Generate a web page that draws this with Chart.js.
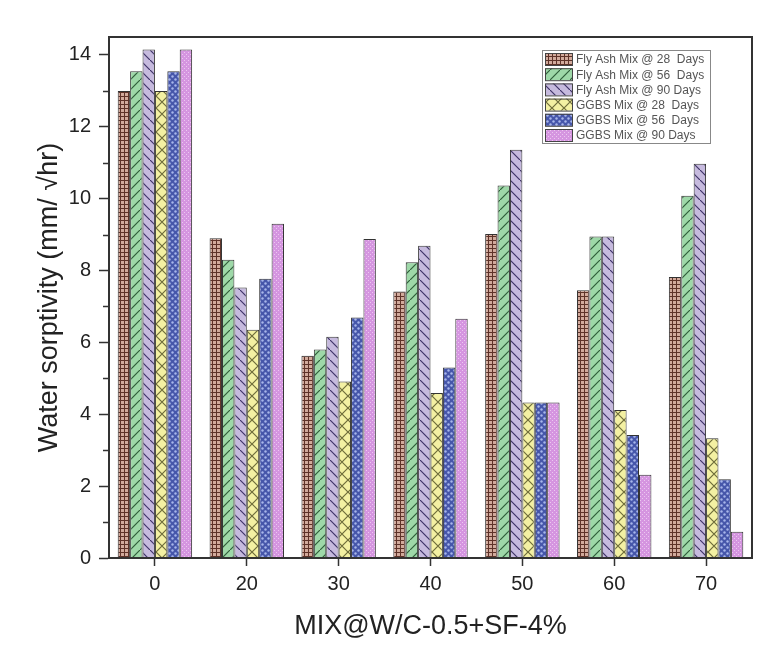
<!DOCTYPE html>
<html>
<head>
<meta charset="utf-8">
<script src="https://cdn.jsdelivr.net/npm/chart.js@4.4.1/dist/chart.umd.min.js"></script>
<style>
  html, body { margin: 0; padding: 0; background: #fff; }
  #wrap { width: 783px; height: 671px; position: relative; }
</style>
</head>
<body>
<div id="wrap"><canvas id="chart"></canvas></div>
<script>
var categories = ['0', '20', '30', '40', '50', '60', '70'];

var seriesLabels = [
  'Fly Ash Mix @ 28  Days',
  'Fly Ash Mix @ 56  Days',
  'Fly Ash Mix @ 90 Days',
  'GGBS Mix @ 28  Days',
  'GGBS Mix @ 56  Days',
  'GGBS Mix @ 90 Days'
];

var flyAsh28 = [13.0, 8.9, 5.63, 7.42, 9.02, 7.45, 7.82];
var flyAsh56 = [13.55, 8.3, 5.8, 8.23, 10.37, 8.95, 10.08];
var flyAsh90 = [14.15, 7.53, 6.16, 8.69, 11.36, 8.95, 10.97];
var ggbs28 = [13.0, 6.35, 4.91, 4.59, 4.33, 4.12, 3.33];
var ggbs56 = [13.55, 7.77, 6.69, 5.3, 4.33, 3.42, 2.19];
var ggbs90 = [14.15, 9.3, 8.88, 6.66, 4.33, 2.32, 0.73];

var yTicks = [0, 2, 4, 6, 8, 10, 12, 14];

var FONT = '"Liberation Sans", Arial, sans-serif';

// small tiles for the hatch fills
function makePattern(kind){
  var c = document.createElement('canvas');
  var ctx = c.getContext('2d');
  var s;
  if (kind === 'grid'){
    s = 4; c.width = s; c.height = s;
    ctx.fillStyle = '#d2aa9c'; ctx.fillRect(0, 0, s, s);
    ctx.fillStyle = '#5e3228';
    ctx.fillRect(0, 0, s, 1);
    ctx.fillRect(0, 0, 1, s);
  } else if (kind === 'fwd' || kind === 'back'){
    s = 10; c.width = s; c.height = s;
    ctx.fillStyle = kind === 'fwd' ? '#9ed8a8' : '#c6bade';
    ctx.fillRect(0, 0, s, s);
    ctx.strokeStyle = kind === 'fwd' ? '#2f5e3a' : '#3f3468';
    ctx.lineWidth = 1.2;
    ctx.beginPath();
    if (kind === 'fwd'){
      ctx.moveTo(-1, s + 1); ctx.lineTo(s + 1, -1);
    } else {
      ctx.moveTo(-1, -1); ctx.lineTo(s + 1, s + 1);
    }
    ctx.stroke();
  } else if (kind === 'cross'){
    s = 12; c.width = s; c.height = s;
    ctx.fillStyle = '#f3f0a2'; ctx.fillRect(0, 0, s, s);
    ctx.strokeStyle = '#6e6c3a';
    ctx.lineWidth = 1.2;
    ctx.beginPath();
    ctx.moveTo(-1, -1); ctx.lineTo(s + 1, s + 1);
    ctx.moveTo(-1, s + 1); ctx.lineTo(s + 1, -1);
    ctx.stroke();
  } else if (kind === 'dots'){
    s = 6; c.width = s; c.height = s;
    ctx.fillStyle = '#4656aa'; ctx.fillRect(0, 0, s, s);
    ctx.fillStyle = '#a8b6ea';
    ctx.beginPath(); ctx.arc(1.5, 1.5, 1.2, 0, Math.PI * 2); ctx.fill();
    ctx.beginPath(); ctx.arc(4.5, 4.5, 1.2, 0, Math.PI * 2); ctx.fill();
  } else {
    s = 4; c.width = s; c.height = s;
    ctx.fillStyle = '#d595e0'; ctx.fillRect(0, 0, s, s);
    ctx.fillStyle = '#ecc8f0';
    ctx.fillRect(0, 0, 1, 1);
    ctx.fillRect(2, 2, 1, 1);
  }
  return ctx.createPattern(c, 'repeat');
}

var fills = [
  makePattern('grid'),
  makePattern('fwd'),
  makePattern('back'),
  makePattern('cross'),
  makePattern('dots'),
  makePattern('pink')
];

var values = [flyAsh28, flyAsh56, flyAsh90, ggbs28, ggbs56, ggbs90];

var datasets = values.map(function(v, i){
  return {
    label: seriesLabels[i],
    data: v,
    backgroundColor: fills[i],
    borderColor: '#333',
    borderWidth: 1,
    barPercentage: 1,
    categoryPercentage: 0.81
  };
});

// box frame, minor y ticks, legend box
var framePlugin = {
  id: 'frame',
  afterDatasetsDraw: function(chart){
    var ctx = chart.ctx;
    var a = chart.chartArea;
    var y = chart.scales.y;
    ctx.save();
    ctx.strokeStyle = '#333';
    ctx.lineWidth = 1.5;
    for (var v = 1; v < 14; v += 2){
      var py = Math.round(y.getPixelForValue(v)) + 0.5;
      ctx.beginPath();
      ctx.moveTo(a.left - 6, py);
      ctx.lineTo(a.left, py);
      ctx.stroke();
    }
    ctx.lineWidth = 2;
    ctx.strokeRect(a.left, a.top, a.right - a.left, a.bottom - a.top);
    ctx.restore();
  },
  afterDraw: function(chart){
    var ctx = chart.ctx;
    var bx = 542, by = 50, bw = 168, bh = 93;
    ctx.save();
    ctx.fillStyle = '#fff';
    ctx.fillRect(bx, by, bw, bh);
    ctx.strokeStyle = '#888';
    ctx.lineWidth = 1;
    ctx.strokeRect(bx + 0.5, by + 0.5, bw, bh);
    ctx.font = '12px ' + FONT;
    ctx.textBaseline = 'middle';
    chart.data.datasets.forEach(function(ds, i){
      var ry = by + 3 + i * 15.2;
      ctx.fillStyle = ds.backgroundColor;
      ctx.fillRect(545, ry, 27, 12);
      ctx.strokeStyle = '#444';
      ctx.strokeRect(545.5, ry + 0.5, 27, 12);
      ctx.fillStyle = '#555';
      ctx.fillText(ds.label, 576, ry + 7);
    });
    ctx.restore();
  }
};

new Chart(document.getElementById('chart'), {
  type: 'bar',
  data: { labels: categories, datasets: datasets },
  plugins: [framePlugin],
  options: {
    responsive: true,
    maintainAspectRatio: false,
    animation: false,
    layout: { padding: { top: 37, right: 31, left: 0, bottom: 0 } },
    plugins: {
      legend: { display: false },
      tooltip: { enabled: false }
    },
    scales: {
      x: {
        afterFit: function(s){ s.height = 113; },
        grid: { display: true, drawOnChartArea: false, offset: false, tickLength: 8, tickWidth: 1.5, tickColor: '#333' },
        border: { display: true, color: '#333', width: 2 },
        ticks: { color: '#222', padding: 6, font: { family: FONT, size: 20 } },
        title: {
          display: true,
          text: 'MIX@W/C-0.5+SF-4%',
          color: '#222',
          font: { family: FONT, size: 27, lineHeight: 1 },
          padding: { top: 0, bottom: 31 }
        }
      },
      y: {
        min: 0,
        max: 14.5,
        afterFit: function(s){ s.width = 109; },
        afterBuildTicks: function(s){
          s.ticks = yTicks.map(function(v){ return { value: v }; });
        },
        grid: { display: true, drawOnChartArea: false, tickLength: 10, tickWidth: 1.5, tickColor: '#333' },
        border: { display: true, color: '#333', width: 2 },
        ticks: { color: '#222', padding: 8, font: { family: FONT, size: 20 } },
        title: {
          display: true,
          text: 'Water sorptivity (mm/ \u221Ahr)',
          color: '#222',
          font: { family: FONT, size: 27, lineHeight: 1 },
          padding: { top: 36, bottom: 0 }
        }
      }
    }
  }
});
</script>
</body>
</html>
